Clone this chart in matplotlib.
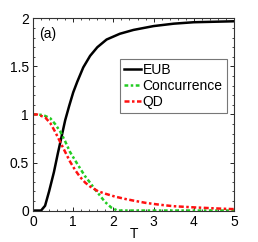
import matplotlib
matplotlib.use("Agg")
import matplotlib.pyplot as plt
from matplotlib.ticker import MultipleLocator
import numpy as np

plt.rcParams['font.family'] = ['Liberation Sans', 'DejaVu Sans']

# EUB
t_eub = [0, 0.2, 0.3, 0.4, 0.52, 0.62, 0.7, 0.8, 0.9, 1.0, 1.1, 1.25, 1.42, 1.6, 1.83, 2.16, 2.5, 3.0, 3.5, 4.0, 4.5, 5.0]
eub = [0, 0, 0.05, 0.2, 0.4, 0.6, 0.75, 0.94, 1.09, 1.23, 1.34, 1.49, 1.61, 1.7, 1.78, 1.84, 1.88, 1.92, 1.945, 1.96, 1.965, 1.97]

# Concurrence
t_c = [0, 0.1, 0.22, 0.3, 0.43, 0.55, 0.68, 0.8, 0.92, 1.05, 1.17, 1.29, 1.42, 1.54, 1.62, 1.79, 1.95, 2.1, 2.5, 3.0, 4.0, 5.0]
conc = [1, 1, 0.995, 0.985, 0.96, 0.9, 0.82, 0.72, 0.61, 0.52, 0.44, 0.36, 0.29, 0.22, 0.18, 0.09, 0.03, 0.0, 0.0, 0.0, 0.0, 0.0]

# QD
t_q = [0, 0.1, 0.17, 0.3, 0.43, 0.55, 0.68, 0.8, 0.92, 1.05, 1.17, 1.3, 1.42, 1.54, 1.62, 1.8, 2.04, 2.3, 2.54, 2.8, 3.16, 3.5, 4.0, 4.5, 4.9, 5.0]
qd = [1, 1, 0.99, 0.97, 0.91, 0.82, 0.71, 0.61, 0.51, 0.42, 0.35, 0.29, 0.25, 0.22, 0.2, 0.175, 0.145, 0.12, 0.1, 0.08, 0.06, 0.045, 0.033, 0.023, 0.016, 0.015]

fig = plt.figure(figsize=(2.58, 2.42), dpi=100)
ax = fig.add_axes([0.128, 0.13, 0.779, 0.794])

ax.plot(t_eub, eub, color='black', lw=1.8, label='EUB')
ax.plot(t_c, conc, color='#22cc22', lw=1.8, linestyle=(0, (1.5, 1, 1, 1)), label='Concurrence')
ax.plot(t_q, qd, color='#ff1111', lw=1.8, linestyle=(0, (2, 1, 1, 1)), label='QD')

ax.set_xlim(0, 5)
ax.set_ylim(0, 2)
ax.set_xticks([0, 1, 2, 3, 4, 5])
ax.set_yticks([0, 0.5, 1, 1.5, 2])
ax.set_yticklabels(['0', '0.5', '1', '1.5', '2'])
ax.xaxis.set_minor_locator(MultipleLocator(0.2))
ax.yaxis.set_minor_locator(MultipleLocator(0.1))
ax.tick_params(which='both', direction='in', top=True, right=True, labelsize=10, pad=3)
ax.tick_params(which='major', length=3, width=0.6)
ax.tick_params(which='minor', length=1.5, width=0.5)
for s in ax.spines.values():
    s.set_linewidth(0.8)
    s.set_color('#333333')

ax.set_xlabel('T', fontsize=10, labelpad=-1)
ax.text(0.03, 0.955, '(a)', transform=ax.transAxes, fontsize=10, va='top', ha='left')

leg = ax.legend(loc='upper right', bbox_to_anchor=(0.963, 0.79), fontsize=10,
                frameon=True, fancybox=False, edgecolor='#555555', handlelength=1.2,
                handletextpad=0.1, borderpad=0.3, labelspacing=0.15, borderaxespad=0)
leg.get_frame().set_linewidth(0.8)

fig.savefig('out.png', dpi=100)
